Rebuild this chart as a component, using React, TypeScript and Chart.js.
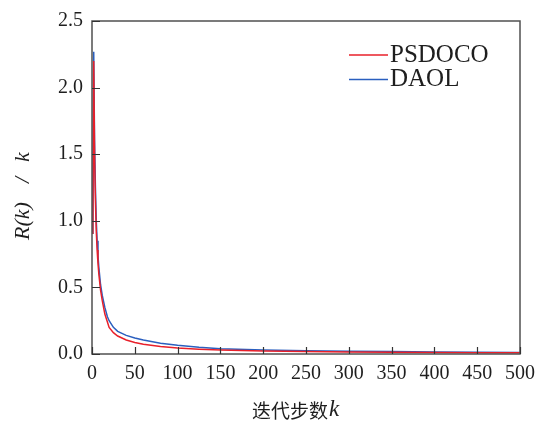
import React, { useEffect, useRef } from "react";
import { Chart, registerables } from "chart.js";

Chart.register(...registerables);

const kValues = [1, 2, 3, 4, 5, 6, 7, 8, 10, 12, 15, 18, 20, 25, 30, 40, 50, 60, 80, 100, 125, 150, 200, 250, 300, 350, 400, 450, 500];
const psdocoValues = [0.9, 2.2, 1.5, 1.15, 0.92, 0.78, 0.68, 0.6, 0.48, 0.4, 0.3, 0.24, 0.2, 0.16, 0.135, 0.105, 0.087, 0.073, 0.056, 0.045, 0.036, 0.03, 0.022, 0.018, 0.015, 0.013, 0.011, 0.01, 0.009];
const daolValues = [0.9, 2.27, 1.6, 1.25, 1.0, 0.85, 0.74, 0.65, 0.52, 0.44, 0.35, 0.28, 0.25, 0.2, 0.17, 0.14, 0.12, 0.105, 0.08, 0.065, 0.05, 0.04, 0.03, 0.025, 0.02, 0.018, 0.015, 0.013, 0.012];
const seriesNames = ["PSDOCO", "DAOL"];
const seriesColors = ["#e8202a", "#2a5fbf"];
const xTickLabels = [0, 50, 100, 150, 200, 250, 300, 350, 400, 450, 500];
const yTickLabels = [0, 0.5, 1.0, 1.5, 2.0, 2.5];
const xTitleCJK = "迭代步数";
const xTitleVar = "k";

const SERIF = "'Liberation Serif', 'DejaVu Serif', serif";
const AXIS_COLOR = "#505050";
const TEXT_COLOR = "#1e1e1e";

const decorPlugin = {
  id: "decor",
  afterDatasetsDraw(chart: any) {
    const { ctx, chartArea } = chart;
    const { left, right, top, bottom } = chartArea;
    const xs = chart.scales.x;
    const ys = chart.scales.y;
    ctx.save();
    // frame
    ctx.strokeStyle = AXIS_COLOR;
    ctx.lineWidth = 1.5;
    ctx.strokeRect(left, top, right - left, bottom - top);
    // inward ticks
    ctx.lineWidth = 1.2;
    ctx.strokeStyle = "#333";
    ctx.beginPath();
    xTickLabels.forEach((v) => {
      const px = Math.round(xs.getPixelForValue(v)) + 0.5;
      ctx.moveTo(px, bottom);
      ctx.lineTo(px, bottom - 7);
    });
    yTickLabels.forEach((v) => {
      const py = Math.round(ys.getPixelForValue(v)) + 0.5;
      ctx.moveTo(left, py);
      ctx.lineTo(left + 8, py);
    });
    ctx.stroke();

    // legend
    const legendY = [55, 79.5];
    seriesNames.forEach((name, i) => {
      ctx.strokeStyle = seriesColors[i];
      ctx.lineWidth = 1.5;
      ctx.beginPath();
      ctx.moveTo(349, legendY[i]);
      ctx.lineTo(388, legendY[i]);
      ctx.stroke();
      ctx.fillStyle = TEXT_COLOR;
      ctx.font = `25px ${SERIF}`;
      ctx.textAlign = "left";
      ctx.textBaseline = "middle";
      ctx.fillText(name, 390, legendY[i]);
    });

    // x title
    ctx.fillStyle = TEXT_COLOR;
    ctx.textBaseline = "middle";
    ctx.textAlign = "left";
    ctx.font = `19px 'Noto Sans CJK SC', sans-serif`;
    const cjkW = ctx.measureText(xTitleCJK).width;
    const xStart = 252;
    ctx.fillText(xTitleCJK, xStart, 411);
    ctx.font = `italic 23px ${SERIF}`;
    ctx.fillText(xTitleVar, xStart + cjkW + 1, 410);

    // y title (rotated)
    ctx.translate(23, 240);
    ctx.rotate(-Math.PI / 2);
    ctx.textAlign = "left";
    ctx.textBaseline = "middle";
    ctx.font = `italic 22px ${SERIF}`;
    ctx.fillText("R(k)", 0, 0);
    ctx.fillText("/", 57, 0);
    ctx.fillText("k", 78, 0);
    ctx.restore();
  },
};

export default function App() {
  const canvasRef = useRef<HTMLCanvasElement | null>(null);

  useEffect(() => {
    const canvas = canvasRef.current;
    if (!canvas) return;
    const chart = new Chart(canvas, {
      type: "line",
      data: {
        datasets: [
          {
            label: seriesNames[0],
            data: kValues.map((k, i) => ({ x: k, y: psdocoValues[i] })),
            borderColor: seriesColors[0],
            borderWidth: 1.5,
            pointRadius: 0,
            tension: 0,
            fill: false,
          },
          {
            label: seriesNames[1],
            data: kValues.map((k, i) => ({ x: k, y: daolValues[i] })),
            borderColor: seriesColors[1],
            borderWidth: 1.5,
            pointRadius: 0,
            tension: 0,
            fill: false,
          },
        ],
      },
      options: {
        responsive: false,
        animation: false,
        devicePixelRatio: 1,
        layout: { padding: { left: 0, right: 26, top: 16, bottom: 0 } },
        plugins: {
          legend: { display: false },
          tooltip: { enabled: false },
          title: { display: false },
        },
        scales: {
          x: {
            type: "linear",
            min: 0,
            max: 500,
            afterFit: (s: any) => {
              s.height = 71;
            },
            afterBuildTicks: (s: any) => {
              s.ticks = xTickLabels.map((v) => ({ value: v }));
            },
            grid: { display: false, drawTicks: false },
            border: { display: false },
            ticks: {
              padding: 8,
              color: TEXT_COLOR,
              font: { family: SERIF, size: 20 },
              maxRotation: 0,
              autoSkip: false,
              callback: (v: any) => String(v),
            },
          },
          y: {
            type: "linear",
            min: 0,
            max: 2.5,
            afterFit: (s: any) => {
              s.width = 92;
            },
            afterBuildTicks: (s: any) => {
              s.ticks = yTickLabels.map((v) => ({ value: v }));
            },
            grid: { display: false, drawTicks: false },
            border: { display: false },
            ticks: {
              padding: 9,
              color: TEXT_COLOR,
              font: { family: SERIF, size: 20 },
              autoSkip: false,
              callback: (v: any) => Number(v).toFixed(1),
            },
          },
        },
      },
      plugins: [decorPlugin],
    });
    return () => chart.destroy();
  }, []);

  return (
    <div style={{ position: "absolute", left: 0, top: 0, width: 546, height: 425, background: "#fff" }}>
      <canvas ref={canvasRef} width={546} height={425} style={{ display: "block" }} />
    </div>
  );
}
